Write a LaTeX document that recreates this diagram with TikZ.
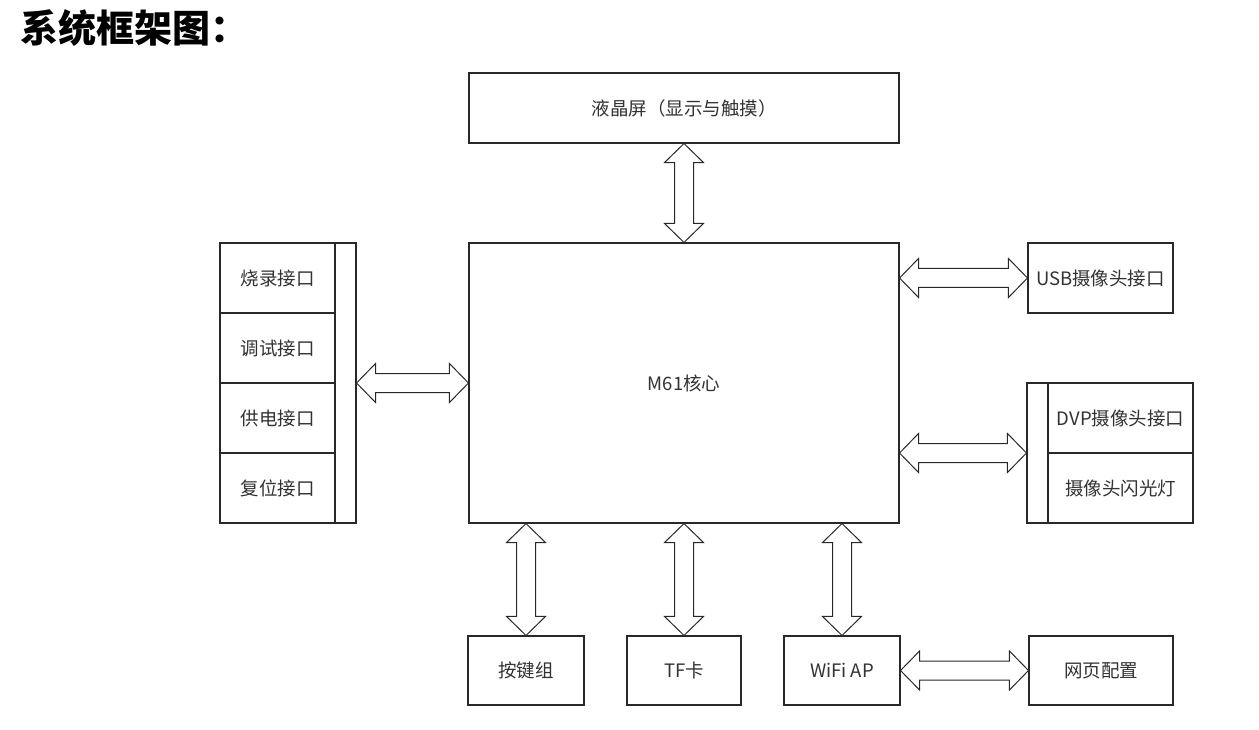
\documentclass[tikz,border=0pt]{standalone}
\usepackage{fontspec}
\setmainfont{Noto Sans CJK SC}
\usetikzlibrary{calc}
\newcommand{\arrhead}{19pt}
\newcommand{\arrwing}{19.5pt}
\newcommand{\arrshaft}{9.5pt}
\definecolor{LineGray}{RGB}{40, 40, 40}
\definecolor{TextGray}{RGB}{50, 50, 50}

\begin{document}
\begin{tikzpicture}[
    x=1pt, y=-1pt,
    box/.style={
        draw=LineGray, line width=1.1pt, fill=white, align=center,
        font=\fontsize{18.5}{21}\selectfont, text=TextGray, inner sep=0pt
    },
    strip/.style={draw=LineGray, line width=1.1pt, fill=white, minimum width=21pt},
    harr/.style={draw=LineGray, line width=1pt, fill=white, line join=miter,
        to path={let \p1=(\tikztostart), \p2=(\tikztotarget) in
            -- (\x1+\arrhead,\y1+\arrwing) -- (\x1+\arrhead,\y1+\arrshaft)
            -- (\x2-\arrhead,\y1+\arrshaft) -- (\x2-\arrhead,\y1+\arrwing)
            -- (\x2,\y1)
            -- (\x2-\arrhead,\y1-\arrwing) -- (\x2-\arrhead,\y1-\arrshaft)
            -- (\x1+\arrhead,\y1-\arrshaft) -- (\x1+\arrhead,\y1-\arrwing)
            -- cycle}},
    varr/.style={draw=LineGray, line width=1pt, fill=white, line join=miter,
        to path={let \p1=(\tikztostart), \p2=(\tikztotarget) in
            -- (\x1+\arrwing,\y1-\arrhead) -- (\x1+\arrshaft,\y1-\arrhead)
            -- (\x1+\arrshaft,\y2+\arrhead) -- (\x1+\arrwing,\y2+\arrhead)
            -- (\x1,\y2)
            -- (\x1-\arrwing,\y2+\arrhead) -- (\x1-\arrshaft,\y2+\arrhead)
            -- (\x1-\arrshaft,\y1-\arrhead) -- (\x1-\arrwing,\y1-\arrhead)
            -- cycle}},
]
\useasboundingbox (0,0) rectangle (1259,730);

%% Title
\node[anchor=west, font=\fontsize{38}{42}\selectfont\bfseries] (title) at (17,28) {系统框架图：};

%% Core and display
\node[box, minimum width=430pt, minimum height=70pt]  (lcd) at (684,108) {液晶屏（显示与触摸）};
\node[box, minimum width=430pt, minimum height=280pt] (mcu) at (684,383) {M61核心};

%% Left interface stack
\node[box, minimum width=115pt, minimum height=70pt] (burn) at (277.5,278) {烧录接口};
\node[box, minimum width=115pt, minimum height=70pt] (dbg)  at (277.5,348) {调试接口};
\node[box, minimum width=115pt, minimum height=70pt] (pwr)  at (277.5,418) {供电接口};
\node[box, minimum width=115pt, minimum height=70pt] (rst)  at (277.5,488) {复位接口};
\node[strip, minimum height=280pt] (lstrip) at (345.5,383) {};

%% Right side cameras
\node[box, minimum width=145pt, minimum height=70pt] (usb)   at (1100.5,278) {USB摄像头接口};
\node[box, minimum width=145pt, minimum height=70pt] (dvp)   at (1120.5,418) {DVP摄像头接口};
\node[box, minimum width=145pt, minimum height=70pt] (flash) at (1120.5,488) {摄像头闪光灯};
\node[strip, minimum height=140pt] (rstrip) at (1037.5,453) {};

%% Bottom row
\node[box, minimum width=116pt, minimum height=69pt] (keys) at (526,670.5)  {按键组};
\node[box, minimum width=114pt, minimum height=69pt] (tf)   at (684,670.5)  {TF卡};
\node[box, minimum width=116pt, minimum height=69pt] (wifi) at (842,670.5)  {WiFi AP};
\node[box, minimum width=144pt, minimum height=69pt] (web)  at (1101,670.5) {网页配置};

%% Block arrows
\draw[varr] (lcd.south) to (mcu.north);
\draw[harr] (lstrip.east) to (mcu.west);
\draw[harr] (mcu.east |- usb.west) to (usb.west);
\draw[harr] (mcu.east |- rstrip.west) to (rstrip.west);
\draw[varr] (mcu.south -| keys.north) to (keys.north);
\draw[varr] (mcu.south -| tf.north) to (tf.north);
\draw[varr] (mcu.south -| wifi.north) to (wifi.north);
\draw[harr] (wifi.east) to (web.west);

\end{tikzpicture}
\end{document}
